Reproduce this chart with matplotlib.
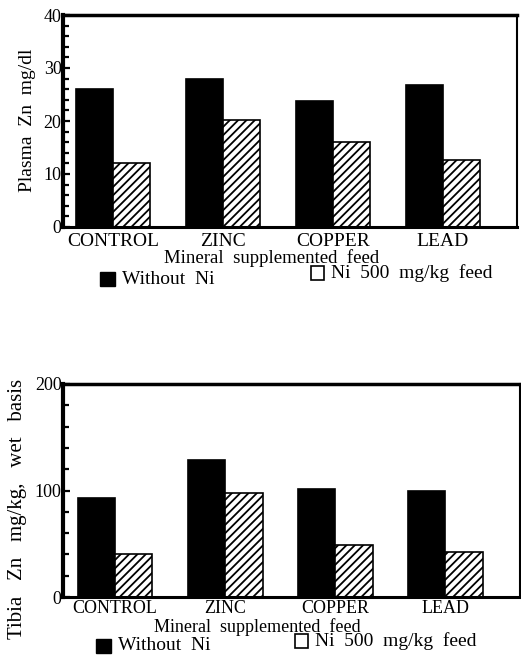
import numpy as np
import matplotlib
matplotlib.use('Agg')
import matplotlib.pyplot as plt
from matplotlib.patches import Rectangle
from matplotlib.ticker import MultipleLocator

# data
FEEDS       = ['CONTROL', 'ZINC', 'COPPER', 'LEAD']
PLASMA_NO   = [26.1, 27.9, 23.8, 26.8]
PLASMA_NI   = [12.0, 20.2, 16.1, 12.6]
TIBIA_NO    = [93, 129, 101, 100]
TIBIA_NI    = [40, 98, 48.5, 42.5]
LEG_LABELS  = ['Without  Ni', 'Ni  500  mg/kg  feed']

W, H = 521, 655
SERIF = ['Liberation Serif', 'DejaVu Serif']
BAR_W = 0.34

plt.rcParams['font.family'] = SERIF
plt.rcParams['hatch.linewidth'] = 1.3
plt.rcParams['hatch.color'] = 'black'


def fx(px):
    return px / W


def fy(px):
    return 1 - px / H


def panel(rect, no_ni, ni, ymax, major, minor, xlim, ylabel, ylab_pos, ylab_fs,
          xpad, xfs):
    ax = fig.add_axes(rect)
    x = np.arange(len(FEEDS))
    ax.bar(x - BAR_W / 2, no_ni, BAR_W, color='black', edgecolor='black', lw=1.2)
    ax.bar(x + BAR_W / 2, ni, BAR_W, color='white', edgecolor='black', lw=1.2,
           hatch='////')
    ax.set_xlim(*xlim)
    ax.set_ylim(0, ymax)
    ax.yaxis.set_major_locator(MultipleLocator(major))
    ax.yaxis.set_minor_locator(MultipleLocator(minor))
    ax.tick_params(axis='y', which='major', direction='in', length=5, width=1.6,
                   pad=1, labelsize=13)
    ax.tick_params(axis='y', which='minor', direction='in', length=4, width=1.6)
    ax.set_xticks(x)
    ax.set_xticklabels(FEEDS, fontsize=xfs)
    ax.tick_params(axis='x', length=0, pad=xpad)
    for sp, lw in [('left', 3), ('top', 2.5), ('bottom', 2.2), ('right', 1.5)]:
        ax.spines[sp].set_linewidth(lw)
        ax.spines[sp].set_color('black')
    fig.text(ylab_pos[0], ylab_pos[1], ylabel, rotation=90, ha='center',
             va='center', fontsize=ylab_fs)
    return ax


def legend_row(y_black, y_white, x_black, x_white):
    fig.patches.append(Rectangle((fx(x_black), fy(y_black + 7)), fx(15), 14 / H,
                                 transform=fig.transFigure, fc='black',
                                 ec='black', lw=1))
    fig.text(fx(x_black + 22), fy(y_black), LEG_LABELS[0], ha='left',
             va='center', fontsize=14)
    fig.patches.append(Rectangle((fx(x_white), fy(y_white + 7)), fx(13), 14 / H,
                                 transform=fig.transFigure, fc='white',
                                 ec='black', lw=1.2))
    fig.text(fx(x_white + 20), fy(y_white), LEG_LABELS[1], ha='left',
             va='center', fontsize=14)


fig = plt.figure(figsize=(W / 100, H / 100), dpi=100)

panel([fx(63), fy(227), fx(454), 212 / H], PLASMA_NO, PLASMA_NI, 40, 10, 2,
      (-0.4545, 3.673), 'Plasma  Zn  mg/dl', (fx(27), fy(120)), 14, 4, 14)
fig.text(fx(272), fy(258), 'Mineral  supplemented  feed', ha='center',
         va='center', fontsize=13.5)
legend_row(279, 273, 100, 311)

panel([fx(63), fy(597), fx(457), 213 / H], TIBIA_NO, TIBIA_NI, 200, 100, 20,
      (-0.473, 3.68), 'Tibia   Zn   mg/kg,   wet   basis', (fx(18), fy(509)), 15,
      2, 13)
fig.text(fx(257), fy(627), 'Mineral  supplemented  feed', ha='center',
         va='center', fontsize=13)
legend_row(646, 641, 96, 295)

fig.savefig('out.png', dpi=100, facecolor='white')
plt.close(fig)
